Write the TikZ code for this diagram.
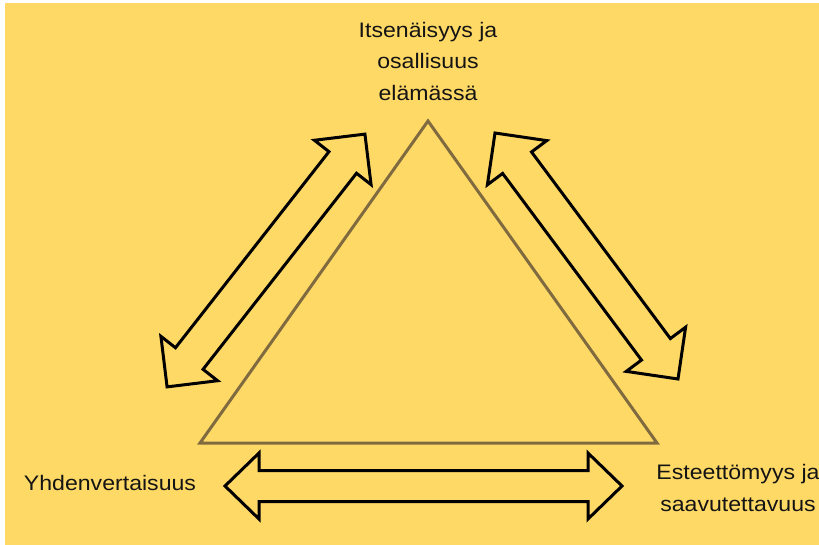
\documentclass[tikz,border=0pt]{standalone}
\usepackage{fontspec}
\setmainfont{Liberation Sans}[FakeStretch=1.1]
\definecolor{bg}{HTML}{FFD966}
\definecolor{tri}{HTML}{7F6B3F}
\tikzset{
  arrowline/.style={draw=black, line width=3pt, fill=bg, line join=miter},
  triline/.style={draw=tri, line width=3pt, line join=miter},
  label/.style={font=\fontsize{21}{31.5}\selectfont, text=black!92, align=center, inner sep=0pt},
}
% center x, center y, angle, half length, head length, head half width, shaft half width
\newcommand{\blockarrow}[7]{%
  \begin{scope}[shift={(#1,#2)}, rotate=#3]
    \draw[arrowline] (-#4,0) -- ({-#4+#5},#6) -- ({-#4+#5},#7) -- ({#4-#5},#7)
      -- ({#4-#5},#6) -- (#4,0) -- ({#4-#5},-#6) -- ({#4-#5},-#7)
      -- ({-#4+#5},-#7) -- ({-#4+#5},-#6) -- cycle;
  \end{scope}}
\begin{document}
\begin{tikzpicture}[x=1pt, y=1pt]
  \useasboundingbox (0,0) rectangle (819,-545);
  \fill[white] (0,0) rectangle (819,-545);
  \fill[bg] (5,-3) rectangle (819,-545);
  % triangle
  \coordinate (apex) at (428,-121);
  \coordinate (bl) at (200,-443);
  \coordinate (br) at (657,-443);
  \draw[triline] (apex) -- (bl) -- (br) -- cycle;
  % block arrows
  \blockarrow{266}{-260.5}{51.95}{160.5}{36}{36}{17.5}
  \blockarrow{586.5}{-256}{-53.35}{153.3}{37}{37}{18}
  \blockarrow{423.5}{-486}{0}{198.5}{34}{33}{15.5}
  % labels
  \node[label] (top) at (428,-61) {Itsenäisyys ja\\osallisuus\\elämässä};
  \node[label, anchor=base] (left) at (110,-490) {Yhdenvertaisuus};
  \node[label] (right) at (738,-488) {Esteettömyys ja\\saavutettavuus};
\end{tikzpicture}
\end{document}
